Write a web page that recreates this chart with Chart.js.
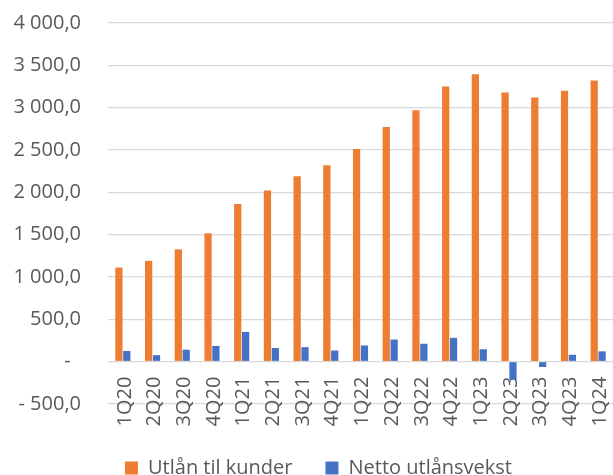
<!DOCTYPE html>
<html>
<head>
<meta charset="utf-8">
<script src="https://cdn.jsdelivr.net/npm/chart.js@4.4.0/dist/chart.umd.min.js"></script>
<style>
  body { margin:0; background:#fff; }
</style>
</head>
<body>
<canvas id="utlan_chart" width="613" height="475"></canvas>
<script>
// kvartaler
let labels = ['1Q20', '2Q20', '3Q20', '4Q20', '1Q21', '2Q21', '3Q21', '4Q21', '1Q22', '2Q22', '3Q22', '4Q22', '1Q23', '2Q23', '3Q23', '4Q23', '1Q24'];
let utlan = [1110, 1190, 1325, 1515, 1860, 2020, 2190, 2320, 2510, 2770, 2970, 3250, 3395, 3180, 3120, 3200, 3320];
let netto = [125, 75, 140, 185, 350, 160, 170, 130, 190, 260, 210, 280, 145, -215, -65, 80, 120];
let yTicks = [-500, 0, 500, 1000, 1500, 2000, 2500, 3000, 3500, 4000];

function fmt(v){
    if(v === 0) return '-  ';
    let s = Math.abs(v).toFixed(1).replace('.', ',').replace(/\B(?=(\d{3})+(?!\d))/g, ' ');
    return v < 0 ? '- ' + s : s;
}

let txt = '#595959';
let font = {family:'"Open Sans", sans-serif', size:20};

// legenden står litt til høyre for midten
let legendShift = {
    id:'legendShift',
    afterLayout:function(chart){
        chart.legend.left += 12;
        chart.legend.right += 12;
    }
};

let ctx = document.getElementById('utlan_chart');
let utlanChart = new Chart(ctx, {
    type:'bar',
    plugins:[legendShift],
    data:{
        labels:labels,
        datasets:[{
            label:'Utlån til kunder',
            data:utlan,
            backgroundColor:'#ED7D31'
        },{
            label:'Netto utlånsvekst',
            data:netto,
            backgroundColor:'#4472C4'
        }]
    },
    options:{
        responsive:false,
        animation:false,
        categoryPercentage:0.53,
        barPercentage:0.92,
        layout:{ padding:{ top:23, left:0, right:0, bottom:0 } },
        plugins:{
            tooltip:{ enabled:false },
            legend:{
                position:'bottom',
                maxHeight:50,
                labels:{ boxWidth:13, boxHeight:13, padding:33, color:txt, font:font }
            }
        },
        scales:{
            x:{
                position:{ y:0 },
                afterFit:function(scale){ scale.paddingLeft = 0; scale.paddingRight = 0; },
                grid:{ display:false, drawTicks:false },
                border:{ display:false },
                ticks:{ color:txt, font:font, minRotation:90, maxRotation:90, autoSkip:false, padding:15, labelOffset:2 }
            },
            y:{
                min:-750,
                max:4000,
                afterFit:function(scale){
                    scale.width = 108;
                    scale.paddingTop = 0;
                    scale.paddingBottom = 0;
                },
                afterBuildTicks:function(scale){
                    scale.ticks = yTicks.map(function(v){ return {value:v}; });
                },
                grid:{ color:'#d9d9d9', lineWidth:1.3, drawTicks:false },
                border:{ display:false },
                ticks:{ color:txt, font:font, padding:27, stepSize:500, callback:function(v){ return fmt(v); } }
            }
        }
    }
});
</script>
</body>
</html>
